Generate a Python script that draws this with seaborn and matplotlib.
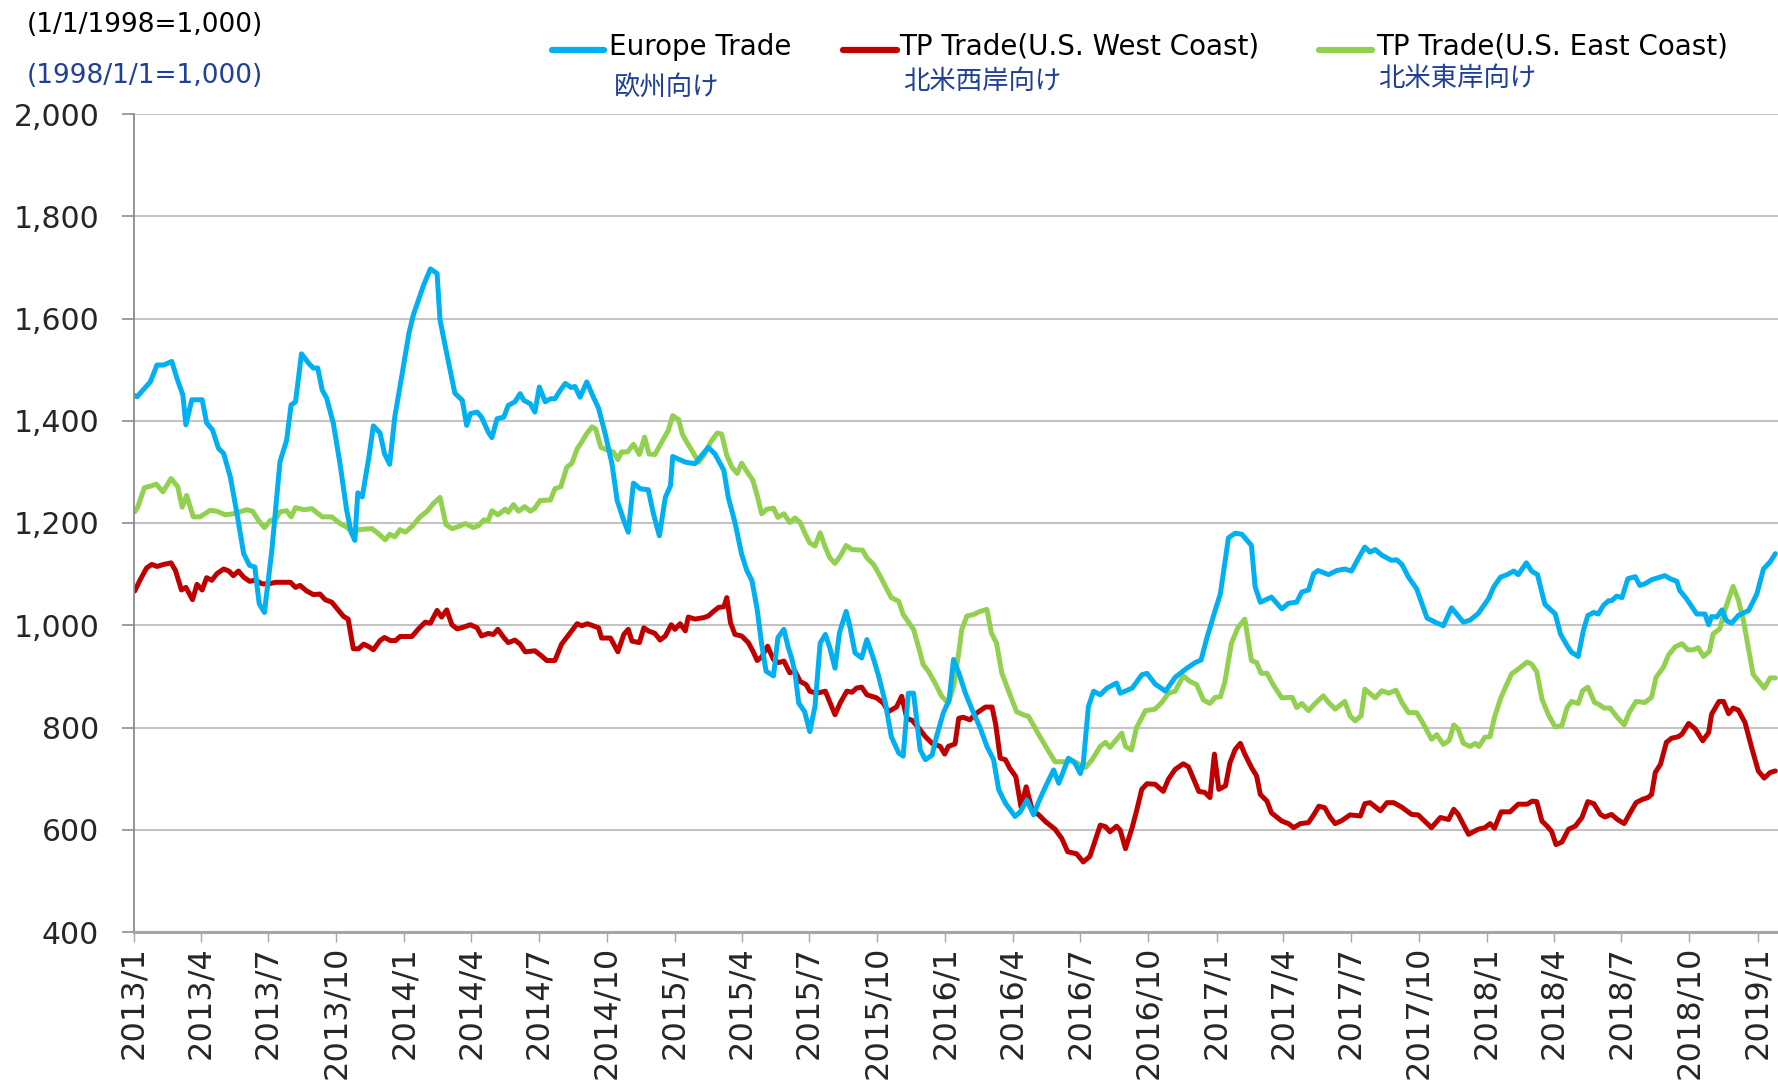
import pandas as pd
import numpy as np
import matplotlib.pyplot as plt
import seaborn as sns
from matplotlib.lines import Line2D

sns.set_style('white')
plt.rcParams['font.family'] = ['DejaVu Sans', 'Noto Sans CJK JP']

# Days counted from 2013/1/1 (1998/1/1 = 1,000)
eu_day = [0, 4, 22, 31, 40, 51, 58, 66, 70, 78, 92, 98, 106, 114, 121, 130, 139, 148, 156, 163,
          169, 176, 186, 197, 206, 212, 218, 226, 236, 242, 248, 254, 260, 269, 278, 287, 293, 298, 302, 308,
          317, 323, 332, 338, 345, 352, 362, 371, 377, 391, 400, 409, 413, 421, 433, 443, 449, 454, 463, 469,
          478, 483, 490, 499, 505, 514, 521, 526, 535, 541, 547, 555, 562, 568, 575, 582, 590, 595, 602, 611,
          620, 627, 636, 645, 652, 661, 667, 674, 683, 694, 701, 709, 717, 724, 727, 744, 757, 775, 784, 796,
          802, 811, 820, 827, 834, 841, 847, 853, 863, 869, 877, 883, 888, 892, 897, 905, 912, 919, 926, 933,
          939, 946, 952, 961, 966, 973, 982, 989, 997, 1005, 1014, 1022, 1032, 1038, 1045, 1052, 1061, 1068, 1077, 1083,
          1092, 1100, 1106, 1113, 1122, 1131, 1142, 1151, 1160, 1167, 1176, 1189, 1196, 1205, 1214, 1221, 1230, 1241, 1248, 1261,
          1270, 1277, 1281, 1288, 1295, 1304, 1313, 1326, 1331, 1347, 1360, 1367, 1378, 1392, 1405, 1419, 1432, 1440, 1448, 1459,
          1466, 1477, 1486, 1495, 1508, 1513, 1520, 1535, 1549, 1558, 1569, 1576, 1585, 1592, 1598, 1612, 1623, 1634, 1643, 1652,
          1661, 1668, 1675, 1684, 1697, 1704, 1711, 1720, 1731, 1745, 1756, 1767, 1778, 1794, 1803, 1814, 1828, 1835, 1844, 1853,
          1862, 1868, 1879, 1886, 1894, 1904, 1918, 1925, 1934, 1940, 1949, 1956, 1962, 1970, 1976, 1983, 1990, 1994, 2001, 2008,
          2016, 2026, 2032, 2039, 2048, 2066, 2073, 2082, 2086, 2095, 2109, 2120, 2125, 2129, 2136, 2143, 2149, 2156, 2165, 2179,
          2190, 2199, 2208, 2215]
eu_val = [1450, 1447, 1476, 1509, 1509, 1516, 1483, 1450, 1392, 1441, 1441, 1396, 1382, 1346, 1336, 1290, 1218, 1140, 1117, 1114,
          1042, 1025, 1146, 1320, 1362, 1431, 1437, 1531, 1512, 1503, 1503, 1460, 1444, 1395, 1316, 1225, 1182, 1166, 1259, 1251,
          1329, 1390, 1376, 1336, 1315, 1408, 1493, 1571, 1607, 1666, 1697, 1688, 1597, 1539, 1454, 1440, 1391, 1414, 1417, 1407,
          1378, 1367, 1404, 1407, 1430, 1437, 1453, 1440, 1433, 1417, 1466, 1437, 1443, 1443, 1459, 1473, 1465, 1467, 1446, 1476,
          1446, 1424, 1374, 1316, 1244, 1205, 1182, 1278, 1267, 1265, 1218, 1175, 1250, 1273, 1330, 1319, 1316, 1348, 1335, 1303,
          1250, 1201, 1139, 1107, 1087, 1031, 963, 910, 901, 976, 992, 956, 933, 907, 848, 831, 792, 841, 965, 982,
          956, 916, 985, 1027, 998, 946, 936, 972, 939, 900, 848, 782, 750, 744, 867, 867, 756, 737, 746, 782,
          828, 854, 933, 907, 867, 835, 799, 763, 737, 678, 652, 626, 635, 658, 629, 655, 684, 717, 691, 740,
          730, 710, 730, 841, 871, 864, 877, 887, 867, 877, 903, 906, 885, 871, 898, 914, 927, 932, 976, 1029,
          1061, 1171, 1180, 1178, 1156, 1075, 1045, 1055, 1032, 1043, 1045, 1065, 1069, 1101, 1107, 1099, 1107, 1110, 1106, 1130,
          1153, 1143, 1148, 1137, 1127, 1128, 1119, 1094, 1071, 1014, 1006, 999, 1034, 1006, 1010, 1023, 1052, 1075, 1094, 1099,
          1106, 1099, 1122, 1106, 1099, 1041, 1022, 983, 960, 947, 939, 990, 1019, 1025, 1022, 1039, 1048, 1048, 1057, 1054,
          1091, 1095, 1078, 1081, 1089, 1097, 1091, 1086, 1068, 1052, 1022, 1022, 1001, 1017, 1016, 1030, 1009, 1004, 1019, 1029,
          1061, 1110, 1124, 1140]

wc_day = [1, 8, 17, 24, 31, 40, 50, 56, 64, 70, 79, 85, 92, 98, 105, 112, 121, 128, 134, 141,
          148, 156, 164, 173, 182, 191, 211, 218, 224, 233, 242, 251, 258, 267, 276, 283, 289, 296, 303, 310,
          317, 323, 332, 338, 346, 353, 359, 375, 384, 393, 400, 409, 415, 422, 429, 436, 442, 454, 463, 469,
          478, 485, 491, 499, 505, 514, 521, 528, 541, 550, 557, 568, 577, 589, 598, 604, 612, 627, 631, 643,
          653, 661, 667, 672, 682, 688, 694, 703, 710, 717, 725, 730, 737, 744, 748, 757, 769, 775, 782, 789,
          796, 800, 805, 811, 820, 829, 835, 841, 847, 855, 863, 870, 877, 885, 892, 899, 907, 912, 921, 933,
          946, 953, 962, 969, 975, 982, 989, 1002, 1011, 1018, 1029, 1036, 1043, 1050, 1059, 1068, 1077, 1088, 1094, 1099,
          1108, 1113, 1119, 1128, 1137, 1149, 1158, 1163, 1169, 1176, 1182, 1190, 1197, 1204, 1212, 1221, 1230, 1243, 1252, 1260,
          1272, 1281, 1290, 1304, 1311, 1317, 1326, 1331, 1338, 1347, 1353, 1360, 1367, 1378, 1389, 1396, 1405, 1416, 1423, 1430,
          1437, 1445, 1452, 1458, 1464, 1473, 1479, 1486, 1493, 1499, 1508, 1515, 1520, 1529, 1535, 1549, 1558, 1565, 1574, 1585,
          1592, 1599, 1607, 1614, 1621, 1630, 1641, 1655, 1661, 1668, 1682, 1691, 1700, 1711, 1724, 1733, 1751, 1763, 1774, 1781,
          1787, 1801, 1814, 1823, 1830, 1836, 1845, 1857, 1868, 1880, 1887, 1893, 1900, 1907, 1913, 1919, 1927, 1936, 1945, 1954,
          1962, 1970, 1979, 1985, 1994, 2002, 2011, 2019, 2027, 2035, 2043, 2048, 2053, 2060, 2068, 2075, 2084, 2089, 2098, 2107,
          2117, 2125, 2129, 2139, 2145, 2152, 2158, 2165, 2174, 2183, 2192, 2200, 2208, 2215]
wc_val = [1067, 1088, 1112, 1119, 1115, 1119, 1122, 1107, 1069, 1074, 1050, 1080, 1069, 1093, 1088, 1101, 1110, 1106, 1097, 1106,
          1094, 1086, 1088, 1081, 1081, 1084, 1084, 1074, 1078, 1067, 1060, 1061, 1050, 1045, 1029, 1017, 1012, 954, 954, 963,
          958, 952, 970, 976, 970, 970, 978, 978, 993, 1006, 1004, 1029, 1016, 1030, 1001, 993, 995, 1001, 995, 979,
          984, 982, 992, 976, 966, 971, 963, 948, 950, 940, 931, 931, 963, 986, 1003, 999, 1003, 995, 975, 975,
          948, 982, 992, 969, 966, 995, 989, 984, 971, 979, 1001, 992, 1003, 989, 1016, 1012, 1015, 1018, 1027, 1035,
          1036, 1054, 1005, 982, 979, 966, 950, 931, 938, 959, 933, 927, 930, 907, 910, 890, 884, 871, 867, 871,
          825, 848, 871, 869, 877, 879, 864, 858, 848, 831, 840, 861, 818, 814, 799, 782, 769, 763, 748, 763,
          768, 818, 820, 815, 828, 840, 840, 805, 740, 737, 720, 704, 645, 684, 639, 629, 616, 601, 583, 557,
          553, 537, 548, 609, 606, 596, 607, 599, 563, 604, 637, 679, 690, 689, 675, 699, 718, 729, 723, 699,
          675, 673, 663, 748, 679, 686, 731, 757, 769, 748, 722, 705, 669, 656, 633, 617, 612, 604, 612, 614,
          629, 646, 643, 625, 612, 618, 629, 627, 651, 653, 637, 653, 653, 644, 630, 629, 604, 624, 620, 640,
          630, 591, 601, 604, 612, 603, 635, 635, 650, 650, 656, 655, 617, 607, 597, 571, 576, 601, 607, 624,
          655, 651, 630, 625, 630, 620, 612, 633, 653, 659, 663, 669, 712, 728, 771, 779, 782, 787, 808, 797,
          774, 790, 826, 851, 851, 827, 838, 834, 810, 761, 715, 701, 712, 715]

ec_day = [1, 5, 14, 22, 30, 39, 50, 59, 65, 71, 80, 89, 103, 112, 123, 134, 143, 152, 160, 168,
          176, 184, 191, 197, 206, 212, 218, 229, 240, 254, 267, 278, 287, 296, 303, 321, 330, 339, 345, 352,
          359, 366, 375, 386, 395, 404, 413, 421, 429, 438, 447, 458, 465, 472, 478, 483, 491, 501, 505, 512,
          519, 527, 535, 541, 548, 562, 568, 576, 584, 591, 598, 604, 611, 618, 623, 630, 638, 647, 653, 658,
          666, 674, 682, 689, 695, 703, 712, 721, 727, 735, 740, 746, 754, 762, 769, 778, 787, 793, 800, 807,
          814, 820, 827, 835, 841, 847, 854, 863, 869, 877, 885, 892, 899, 906, 912, 919, 926, 933, 939, 946,
          953, 961, 969, 983, 989, 998, 1007, 1014, 1022, 1032, 1038, 1052, 1059, 1065, 1072, 1081, 1090, 1099, 1106, 1113,
          1117, 1124, 1133, 1142, 1151, 1157, 1164, 1171, 1178, 1191, 1200, 1207, 1221, 1232, 1243, 1257, 1266, 1279, 1284, 1293,
          1304, 1311, 1317, 1329, 1333, 1338, 1346, 1353, 1365, 1378, 1387, 1396, 1405, 1416, 1425, 1434, 1443, 1452, 1459, 1466,
          1472, 1481, 1490, 1499, 1508, 1515, 1521, 1529, 1538, 1549, 1563, 1569, 1576, 1585, 1594, 1605, 1612, 1621, 1634, 1641,
          1648, 1656, 1661, 1675, 1684, 1693, 1703, 1711, 1720, 1731, 1740, 1751, 1758, 1767, 1775, 1781, 1787, 1794, 1803, 1810,
          1815, 1823, 1830, 1836, 1844, 1850, 1859, 1866, 1880, 1886, 1893, 1900, 1909, 1918, 1927, 1934, 1940, 1949, 1955, 1962,
          1971, 1976, 1984, 1992, 2001, 2011, 2018, 2027, 2039, 2048, 2054, 2064, 2071, 2080, 2089, 2097, 2104, 2111, 2118, 2126,
          2131, 2140, 2147, 2158, 2165, 2172, 2179, 2185, 2200, 2208, 2215]
ec_val = [1222, 1231, 1269, 1272, 1276, 1261, 1287, 1271, 1231, 1254, 1212, 1212, 1225, 1223, 1216, 1218, 1222, 1226, 1223, 1205,
          1191, 1205, 1207, 1222, 1224, 1212, 1230, 1226, 1228, 1212, 1212, 1199, 1192, 1180, 1187, 1189, 1179, 1167, 1178, 1173,
          1187, 1182, 1193, 1212, 1222, 1238, 1250, 1197, 1189, 1193, 1199, 1191, 1195, 1206, 1205, 1224, 1216, 1227, 1221, 1236,
          1223, 1232, 1223, 1229, 1244, 1245, 1267, 1271, 1309, 1317, 1345, 1358, 1375, 1388, 1384, 1348, 1343, 1339, 1324, 1339,
          1339, 1354, 1334, 1368, 1335, 1334, 1358, 1381, 1410, 1402, 1374, 1358, 1339, 1319, 1332, 1358, 1376, 1374, 1332, 1309,
          1297, 1317, 1301, 1284, 1254, 1218, 1227, 1229, 1211, 1218, 1201, 1210, 1201, 1178, 1161, 1155, 1181, 1152, 1132, 1121,
          1135, 1156, 1148, 1147, 1132, 1119, 1096, 1076, 1054, 1047, 1021, 992, 956, 923, 910, 887, 861, 848, 880, 946,
          991, 1018, 1021, 1027, 1031, 985, 965, 907, 880, 831, 825, 822, 786, 759, 733, 733, 736, 725, 722, 737,
          763, 771, 761, 782, 789, 763, 756, 800, 833, 836, 849, 867, 871, 901, 890, 884, 854, 847, 859, 860,
          888, 965, 996, 1012, 931, 927, 906, 906, 882, 858, 859, 839, 847, 833, 847, 862, 849, 836, 851, 823,
          813, 823, 875, 858, 872, 867, 873, 849, 829, 829, 807, 777, 786, 767, 775, 805, 797, 769, 763, 769,
          763, 781, 782, 820, 856, 876, 905, 912, 928, 924, 909, 856, 824, 801, 804, 839, 851, 847, 872, 879,
          849, 846, 838, 838, 821, 805, 830, 851, 849, 859, 898, 918, 942, 958, 964, 952, 952, 956, 939, 949,
          983, 993, 1030, 1076, 1050, 1009, 953, 904, 877, 897, 897]

tick_years = [2013] * 4 + [2014] * 4 + [2015] * 4 + [2016] * 4 + [2017] * 4 + [2018] * 4 + [2019]
tick_months = [1, 4, 7, 10] * 6 + [1]
y_ticks = [400, 600, 800, 1000, 1200, 1400, 1600, 1800, 2000]

start = pd.Timestamp('2013-01-01')


def to_frame(days, vals):
    return pd.DataFrame({'date': start + pd.to_timedelta(days, unit='D'), 'value': vals})


eu = to_frame(eu_day, eu_val)
wc = to_frame(wc_day, wc_val)
ec = to_frame(ec_day, ec_val)

col_eu, col_wc, col_ec = '#00B0F0', '#C00000', '#92D050'
jp_blue = '#1F3F99'

W, H = 1778, 1083
fig = plt.figure(figsize=(W / 100, H / 100), dpi=100)
ax = fig.add_axes([134 / W, 1 - 932 / H, (W - 134) / W, (932 - 114) / H])

line_kw = dict(lw=3.6, solid_joinstyle='round', solid_capstyle='round')
sns.lineplot(data=ec, x='date', y='value', color=col_ec, ax=ax, **line_kw)
sns.lineplot(data=wc, x='date', y='value', color=col_wc, ax=ax, **line_kw)
sns.lineplot(data=eu, x='date', y='value', color=col_eu, ax=ax, **line_kw)

ax.set_xlim(start, start + pd.Timedelta(days=2218.6))
ax.set_ylim(400, 2000)
ax.set_xlabel('')
ax.set_ylabel('')

ticks = [pd.Timestamp(year=y, month=m, day=1) for y, m in zip(tick_years, tick_months)]
ax.set_xticks(ticks)
ax.set_xticklabels([f'{y}/{m}' for y, m in zip(tick_years, tick_months)], rotation=90, fontsize=23)
ax.set_yticks(y_ticks)
ax.set_yticklabels([f'{v:,}' for v in y_ticks], fontsize=21.5)

ax.grid(axis='y', color='#C4C4C4', lw=1.5)
ax.grid(axis='x', visible=False)
ax.set_axisbelow(True)
for s in ['top', 'right']:
    ax.spines[s].set_visible(False)
ax.spines['left'].set_color('#8C8C8C')
ax.spines['left'].set_linewidth(1.3)
ax.spines['bottom'].set_color('#A6A6A6')
ax.spines['bottom'].set_linewidth(2.2)
ax.tick_params(axis='y', length=9, width=1.2, color='#8C8C8C', pad=16, left=True)
ax.tick_params(axis='x', length=7, width=1.0, color='#A6A6A6', pad=3, bottom=True)

# unit notes, top left
fig.text(27 / W, 1 - 25 / H, '(1/1/1998=1,000)', fontsize=19, va='center', ha='left', color='black')
fig.text(27 / W, 1 - 76 / H, '(1998/1/1=1,000)', fontsize=19, va='center', ha='left', color=jp_blue)

# legend drawn by hand so the Japanese names can sit below each entry
legend = [
    (552, 604, 609, 'Europe Trade', 614, 87, '欧州向け', col_eu),
    (843, 897, 899, 'TP Trade(U.S. West Coast)', 903, 82, '北米西岸向け', col_wc),
    (1319, 1372, 1376, 'TP Trade(U.S. East Coast)', 1378, 79, '北米東岸向け', col_ec),
]
for x0, x1, xt, label, xj, yj, jp, c in legend:
    fig.add_artist(Line2D([x0 / W, x1 / W], [1 - 50 / H, 1 - 50 / H], transform=fig.transFigure,
                          color=c, lw=4.5, solid_capstyle='round'))
    fig.text(xt / W, 1 - 47 / H, label, fontsize=20, va='center', ha='left', color='black')
    fig.text(xj / W, 1 - yj / H, jp, fontsize=19, va='center', ha='left', color=jp_blue,
             family=['Noto Sans CJK JP', 'DejaVu Sans'])

fig.savefig('out.png', dpi=100)
